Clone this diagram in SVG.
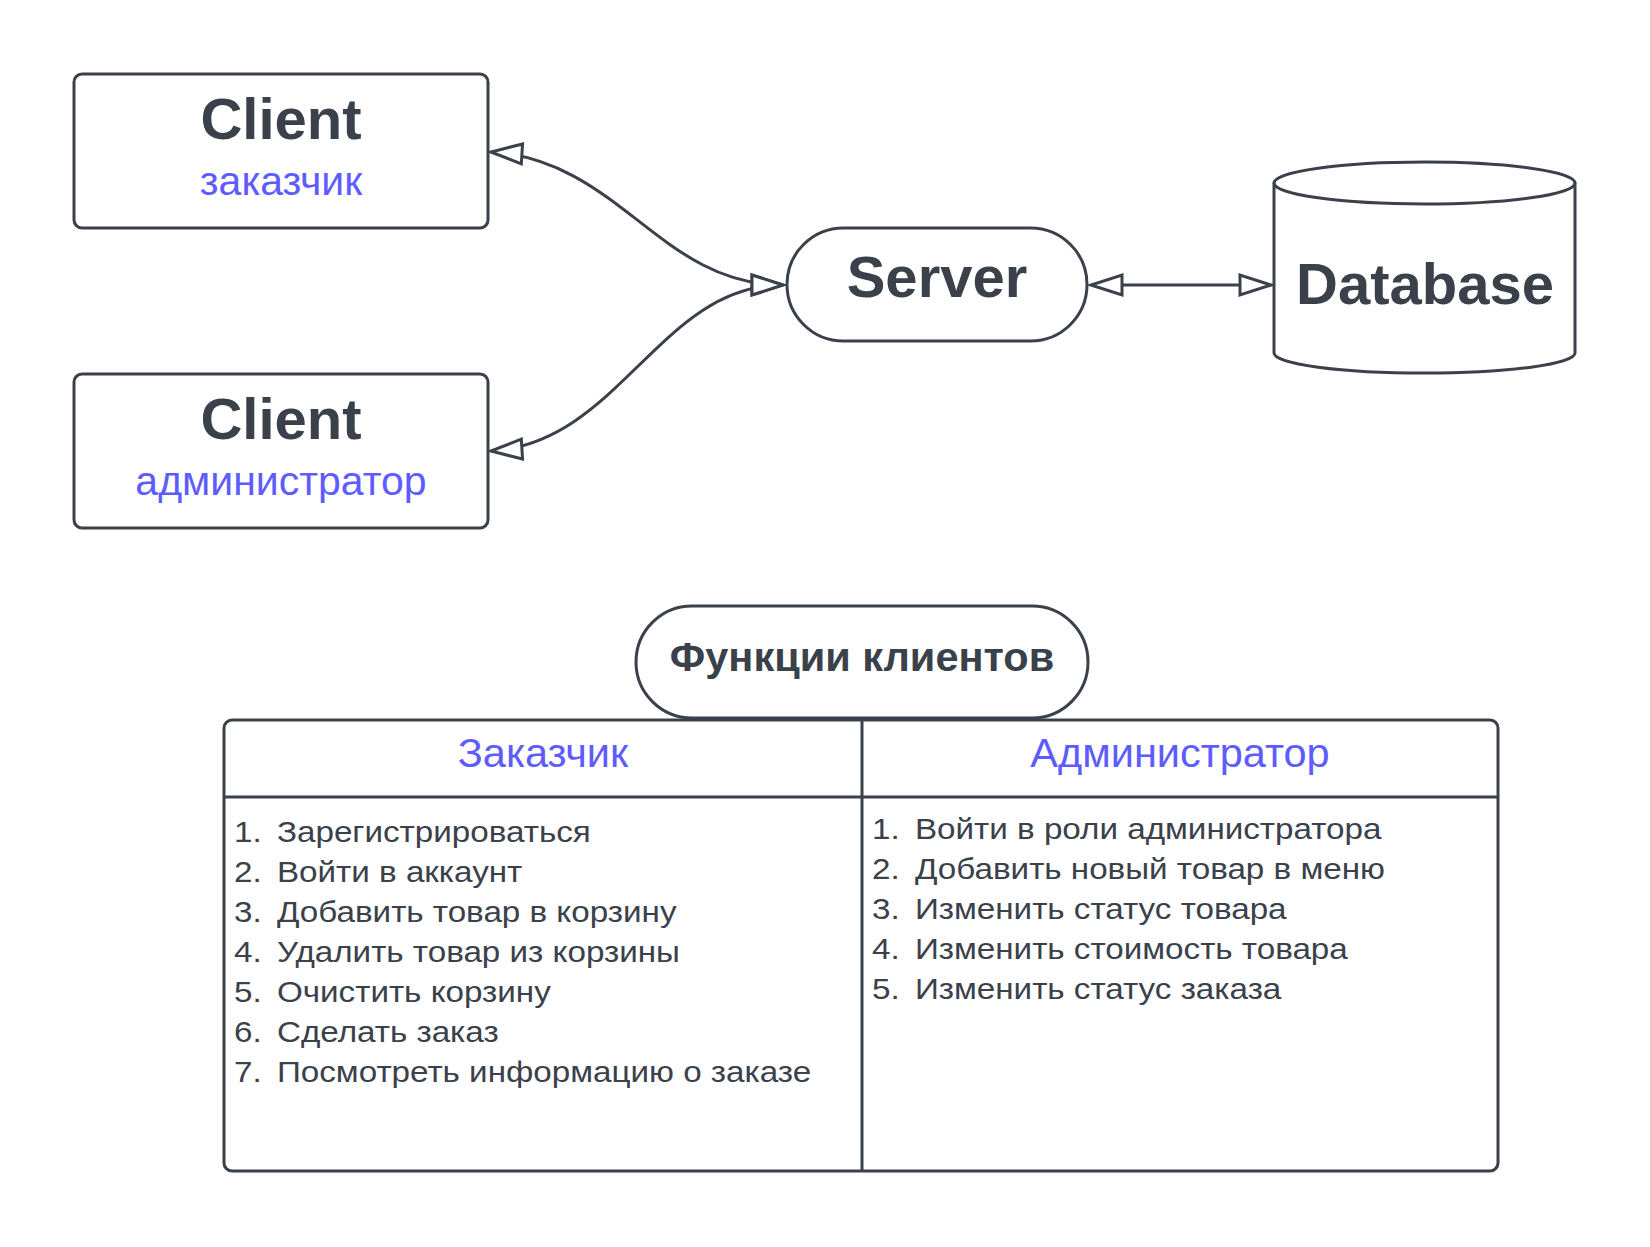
<svg xmlns="http://www.w3.org/2000/svg" width="1650" height="1247" viewBox="0 0 1650 1247">
<style>
.sh{fill:#ffffff;stroke:#3a414a;stroke-width:3}
.ln{fill:none;stroke:#3a414a;stroke-width:3}
.t{font-family:"Liberation Sans",Arial,sans-serif;fill:#3a414a}
.b{font-weight:bold}
.v{fill:#5e5cff}
.it{font-size:30px}
</style>
<defs>
<marker id="ah" markerUnits="userSpaceOnUse" viewBox="-38 -14 42 28" refX="0" refY="0" markerWidth="42" markerHeight="28" orient="auto-start-reverse">
<path d="M0,0 L-31,-10 L-31,10 Z" fill="#ffffff" stroke="#3a414a" stroke-width="3"/>
</marker>
</defs>
<rect width="1650" height="1247" fill="#ffffff"/>
<g id="connectors">
<path class="ln" d="M491 152 C620 160 660 285 783 285" marker-start="url(#ah)" marker-end="url(#ah)"/>
<path class="ln" d="M491 451 C620 443 660 285 783 285" marker-start="url(#ah)" marker-end="url(#ah)"/>
<path class="ln" d="M1091 285 L1271 285" marker-start="url(#ah)" marker-end="url(#ah)"/>
</g>
<g id="client1">
<rect class="sh" x="74" y="74" width="414" height="154" rx="8"/>
<text class="t b" x="281" y="139" font-size="58" text-anchor="middle">Client</text>
<text class="t v" x="281" y="195" font-size="41" text-anchor="middle">заказчик</text>
</g>
<g id="client2">
<rect class="sh" x="74" y="374" width="414" height="154" rx="8"/>
<text class="t b" x="281" y="439" font-size="58" text-anchor="middle">Client</text>
<text class="t v" x="281" y="495" font-size="41" text-anchor="middle">администратор</text>
</g>
<g id="server">
<rect class="sh" x="787" y="228" width="300" height="113" rx="56.5"/>
<text class="t b" x="937" y="297" font-size="58" text-anchor="middle">Server</text>
</g>
<g id="database">
<path class="sh" d="M1274 183 A150.5 21 0 0 1 1575 183 L1575 353 A150.5 20 0 0 1 1274 353 Z"/>
<path class="ln" d="M1274 183 A150.5 21 0 0 0 1575 183"/>
<text class="t b" x="1425" y="304" font-size="58" text-anchor="middle">Database</text>
</g>
<g id="table">
<rect class="sh" x="224" y="720" width="1274" height="451" rx="8"/>
<line class="ln" x1="224" y1="797" x2="1498" y2="797"/>
<line class="ln" x1="862" y1="720" x2="862" y2="1171"/>
<text class="t v" x="543" y="767" font-size="41.5" text-anchor="middle">Заказчик</text>
<text class="t v" x="1180" y="767" font-size="41.5" text-anchor="middle">Администратор</text>
<g class="t it" transform="translate(234 0) scale(1.107 1)">
<text x="0" y="842">1.</text><text x="38.8" y="842">Зарегистрироваться</text>
<text x="0" y="882">2.</text><text x="38.8" y="882">Войти в аккаунт</text>
<text x="0" y="922">3.</text><text x="38.8" y="922">Добавить товар в корзину</text>
<text x="0" y="962">4.</text><text x="38.8" y="962">Удалить товар из корзины</text>
<text x="0" y="1002">5.</text><text x="38.8" y="1002">Очистить корзину</text>
<text x="0" y="1042">6.</text><text x="38.8" y="1042">Сделать заказ</text>
<text x="0" y="1082">7.</text><text x="38.8" y="1082">Посмотреть информацию о заказе</text>
</g>
<g class="t it" transform="translate(872 0) scale(1.107 1)">
<text x="0" y="839">1.</text><text x="38.8" y="839">Войти в роли администратора</text>
<text x="0" y="879">2.</text><text x="38.8" y="879">Добавить новый товар в меню</text>
<text x="0" y="919">3.</text><text x="38.8" y="919">Изменить статус товара</text>
<text x="0" y="959">4.</text><text x="38.8" y="959">Изменить стоимость товара</text>
<text x="0" y="999">5.</text><text x="38.8" y="999">Изменить статус заказа</text>
</g>
</g>
<g id="functions">
<rect class="sh" x="636" y="606" width="452" height="112" rx="56"/>
<text class="t b" x="862" y="671" font-size="41.5" text-anchor="middle">Функции клиентов</text>
</g>
</svg>
